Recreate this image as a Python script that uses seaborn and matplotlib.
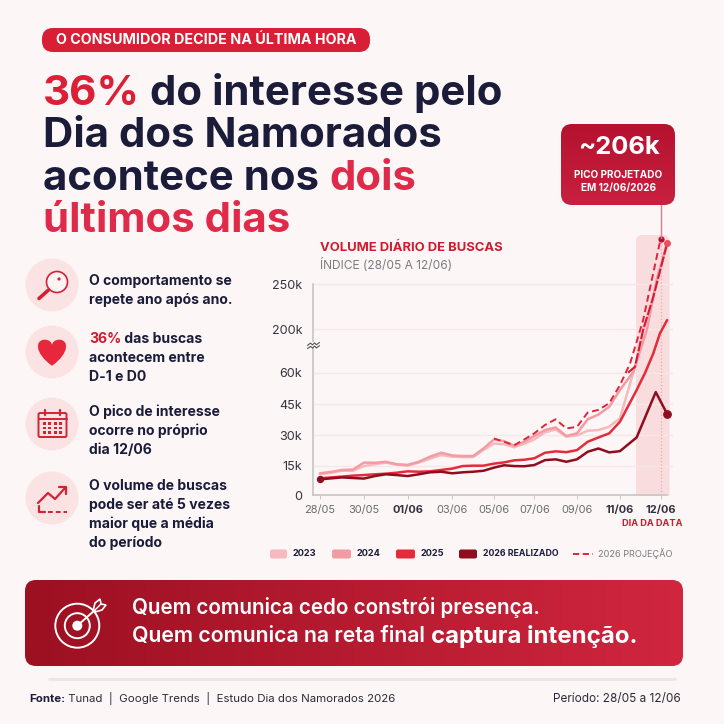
import numpy as np
import pandas as pd
import seaborn as sns
import matplotlib.pyplot as plt
from matplotlib.colors import to_rgb
from matplotlib.patches import FancyBboxPatch, Circle, Rectangle, PathPatch, Polygon
from matplotlib.path import Path
from matplotlib.lines import Line2D

# values are in thousands
days_grid = [0, 0.5, 1, 1.5, 2, 2.5, 3, 3.5, 4, 4.5, 5, 5.5, 6, 6.5, 7, 7.5, 8, 8.5, 9, 9.5,
             10, 10.5, 11, 11.5, 12, 12.5, 13, 13.5, 14]

days_2023 = days_grid + [14.37, 14.57, 14.82, 15.16]
vals_2023 = [10.6, 11.3, 12.4, 12.4, 14.8, 15.7, 16.5, 15.5, 15, 16.5, 18.4, 20.2, 19.4, 19.2, 19.2, 22.7,
             25.8, 25.5, 24, 25.8, 27.8, 31.3, 32.7, 29.2, 29.8, 32.1, 32.4, 34, 38.2,
             79, 197, 236, 296]

days_2024 = days_grid + [14.33, 14.66, 14.9, 15.16]
vals_2024 = [11.1, 11.8, 12.8, 13, 16.5, 16.4, 16.9, 15.7, 15.4, 16.9, 19.4, 21.3, 20, 19.7, 19.7, 23.4,
             27.8, 27, 24.7, 26.7, 29.5, 32.4, 33.7, 29.5, 30.8, 37.7, 40, 43.8, 51.8,
             63, 197, 255, 296]

days_2025 = days_grid + [14.41, 14.62, 14.82, 14.98, 15.16]
vals_2025 = [8.5, 9, 9.4, 9.9, 10.2, 10.6, 10.9, 11.4, 12.1, 11.9, 12.1, 12.8, 13.5, 14.8, 15, 15,
             16, 16.6, 17.6, 17.9, 18.6, 21.3, 22, 21.6, 22.6, 26.7, 28.8, 30.8, 36.5,
             51.8, 60, 122, 185, 210]

days_2026 = days_grid + [14.41, 14.88, 15.16]
vals_2026 = [8, 8.5, 9, 8.7, 8.4, 9.7, 10.6, 10.2, 9.7, 10.6, 11.6, 11.9, 11.1, 11.6, 11.9, 12.4,
             14, 15.2, 14.8, 14.7, 15.3, 17.7, 18.1, 16.9, 18.1, 21.8, 23.4, 21.5, 22.1,
             28.8, 50.8, 40.3]

days_proj = [8, 8.5, 9, 9.5, 10, 10.5, 11, 11.5, 12, 12.5, 13, 13.5, 14, 14.25, 14.57, 15]
vals_proj = [28.3, 26.7, 25, 27.8, 30.8, 34.9, 37.7, 33.2, 34, 41, 42.3, 45.5, 54.1, 90, 210, 301]

# second dashed stroke, the steep one running to the pink end dot
days_proj_b = [14.2, 14.37, 14.57, 14.82, 15.16]
vals_proj_b = [60, 79, 197, 236, 296]

tick_days = [0, 2, 4, 6, 8, 10, 12, 14, 15]
tick_labels = ["28/05", "30/05", "01/06", "03/06", "05/06", "07/06", "09/06", "11/06", "12/06"]
bold_ticks = ["01/06", "11/06", "12/06"]
y_ticks = [0, 15, 30, 45, 60, 200, 250]
y_labels = ["0", "15k", "30k", "45k", "60k", "200k", "250k"]

# axis is not even: broken above 60k and the x steps differ, so both get a knot scale
y_knots = [0, 15, 30, 45, 60, 200, 250, 305.2]
y_pos = [0, 88, 180, 272, 367, 498, 632, 780]
x_knots = [-0.303, 0, 2, 4, 6, 8, 10, 12, 14, 15, 15.31]
x_pos = [130, 150, 282, 413, 547, 672, 793, 921, 1050, 1172, 1210]

NAVY = "#1A1C3A"
RED = "#DB1F36"
RED2 = "#DF2A4A"
C23, C24, C25, C26, CPROJ = "#F6B9BD", "#F39BA3", "#E52B3A", "#8F0D1F", "#E3223A"
BG = "#FDF6F6"
FONT = "Inter"

sns.set_theme(style="white")
plt.rcParams["font.family"] = [FONT, "DejaVu Sans"]

fig = plt.figure(figsize=(7.24, 7.24), dpi=100, facecolor=BG)


def pixel_axes(z):
    a = fig.add_axes([0, 0, 1, 1], zorder=z)
    a.set_xlim(0, 724)
    a.set_ylim(724, 0)
    a.axis("off")
    a.patch.set_alpha(0)
    return a


bg = pixel_axes(0)
fg = pixel_axes(2)


def T(x, y, s, px, color=NAVY, weight="bold", ha="left", va="center", a=None):
    return (a or bg).text(x, y, s, fontsize=px * 0.72, color=color, fontweight=weight, ha=ha, va=va)


def runs(x, y, parts, px):
    # several colours on one line, placed one after the other
    r = fig.canvas.get_renderer()
    for s, col, w in parts:
        t = T(x, y, s, px, col, w, va="baseline")
        x += t.get_window_extent(r).width


def round_box(x0, y0, x1, y1, rad, **kw):
    p = FancyBboxPatch((x0, y0), x1 - x0, y1 - y0, boxstyle=f"round,pad=0,rounding_size={rad}", **kw)
    bg.add_patch(p)
    return p


def gradient_box(x0, y0, x1, y1, rad, c_a, c_b, vertical=False):
    p = round_box(x0, y0, x1, y1, rad, fc="none", ec="none")
    c0, c1 = np.array(to_rgb(c_a)), np.array(to_rgb(c_b))
    f = np.linspace(0, 1, 256)
    f = f[:, None, None] if vertical else f[None, :, None]
    im = bg.imshow(c0 + (c1 - c0) * f, extent=(x0, x1, y1, y0), aspect="auto", zorder=1, origin="upper")
    im.set_clip_path(p)
    bg.set_xlim(0, 724)
    bg.set_ylim(724, 0)


# header
round_box(42, 28, 370, 52, 11, fc="#D81F36", ec="none")
T(206, 40.5, "O CONSUMIDOR DECIDE NA ÚLTIMA HORA", 14.3, "white", ha="center")

TITLE = 42
runs(43, 105, [("36%", RED, "bold"), (" do interesse pelo", NAVY, "bold")], TITLE)
runs(43, 147, [("Dia dos Namorados", NAVY, "bold")], TITLE)
runs(43, 190, [("acontece nos ", NAVY, "bold"), ("dois", RED2, "bold")], TITLE)
runs(43, 232, [("últimos dias", RED2, "bold")], TITLE)

# left column
for cy in [285, 352, 424, 498]:
    bg.add_patch(Circle((52, cy), 26.5, fc="#FBE2E3", ec="none"))

TXT = 14.0
T(89, 281, "O comportamento se", TXT)
T(89, 300, "repete ano após ano.", TXT)
runs(89, 343, [("36%", "#D01A2E", "bold"), (" das buscas", NAVY, "bold")], TXT)
T(89, 358, "acontecem entre", TXT)
T(89, 377, "D-1 e D0", TXT)
T(89, 412, "O pico de interesse", TXT)
T(89, 431, "ocorre no próprio", TXT)
T(89, 450, "dia 12/06", TXT)
T(89, 486, "O volume de buscas", TXT)
T(89, 505, "pode ser até 5 vezes", TXT)
T(89, 524, "maior que a média", TXT)
T(89, 543, "do período", TXT)

ICON = "#D22335"
# lupa
bg.add_patch(Circle((57, 282), 10.5, fc="#FDF3F3", ec=ICON, lw=1.2))
bg.plot([48.5, 39], [290, 298.5], color=ICON, lw=2.6, solid_capstyle="round")
bg.add_patch(Circle((59, 279), 1.6, fc=ICON, ec="none"))
# coracao
hx, hy, hs = 52, 352, 14.5
heart = Path(
    [(hx, hy + hs * 0.95), (hx - hs * 1.25, hy + hs * 0.05), (hx - hs * 1.15, hy - hs * 0.85), (hx - hs * 0.5, hy - hs * 0.85),
     (hx - hs * 0.25, hy - hs * 0.85), (hx, hy - hs * 0.7), (hx, hy - hs * 0.45),
     (hx, hy - hs * 0.7), (hx + hs * 0.25, hy - hs * 0.85), (hx + hs * 0.5, hy - hs * 0.85),
     (hx + hs * 1.15, hy - hs * 0.85), (hx + hs * 1.25, hy + hs * 0.05), (hx, hy + hs * 0.95)],
    [Path.MOVETO] + [Path.CURVE4] * 12)
bg.add_patch(PathPatch(heart, fc="#E8263C", ec="none"))
# calendario
bg.add_patch(FancyBboxPatch((38.5, 413), 28, 24, boxstyle="round,pad=0,rounding_size=1.5", fc="none", ec=ICON, lw=1.4))
bg.plot([38.5, 66.5], [419, 419], color=ICON, lw=1.4)
for xx in [45, 60]:
    bg.plot([xx, xx], [410, 415], color=ICON, lw=1.6)
for row in range(3):
    for col in range(4):
        bg.add_patch(Rectangle((42.5 + col * 5.5, 422 + row * 4.5), 3.2, 2.6, fc=ICON, ec="none"))
# tendencia
bg.plot([38, 48, 55, 65], [503, 493, 499, 488], color=ICON, lw=1.6)
bg.plot([59, 66, 66], [487, 487, 494], color=ICON, lw=1.6)
bg.plot([38.5, 38.5, 45], [506, 512, 512], color=ICON, lw=1.6)
bg.plot([48, 67], [512, 512], color=ICON, lw=1.4, ls=(0, (2.5, 1.5)))

# chart
T(320, 248, "VOLUME DIÁRIO DE BUSCAS", 13, "#D01A2E")
T(320, 265, "ÍNDICE (28/05 A 12/06)", 12, "#7B7B80", "normal")
round_box(636, 235, 669.5, 505, 6, fc="#F9DCDD", ec="none", zorder=0.5)
bg.add_patch(Rectangle((630, 495.6), 45, 12, fc=BG, ec="none", zorder=0.6))

ax = fig.add_axes([313.3 / 724, (724 - 495) / 724, 360 / 724, 260 / 724], zorder=1)
ax.patch.set_alpha(0)
ax.set_xscale("function", functions=(lambda v: np.interp(v, x_knots, x_pos), lambda v: np.interp(v, x_pos, x_knots)))
ax.set_yscale("function", functions=(lambda v: np.interp(v, y_knots, y_pos), lambda v: np.interp(v, y_pos, y_knots)))

ax.axvline(15, color="#EBAAB2", lw=0.9, ls=":", zorder=1)
df = pd.concat([
    pd.DataFrame({"dia": days_2023, "buscas": vals_2023, "serie": "2023"}),
    pd.DataFrame({"dia": days_2024, "buscas": vals_2024, "serie": "2024"}),
    pd.DataFrame({"dia": days_2025, "buscas": vals_2025, "serie": "2025"}),
    pd.DataFrame({"dia": days_2026, "buscas": vals_2026, "serie": "2026"}),
])
sns.lineplot(data=df, x="dia", y="buscas", hue="serie", palette=[C23, C24, C25, C26],
             estimator=None, sort=False, lw=1.8, legend=False, ax=ax, zorder=3)
sns.lineplot(x=days_proj, y=vals_proj, color=CPROJ, lw=1.4, ls=(0, (3.5, 2)), estimator=None, sort=False, ax=ax, zorder=4)
sns.lineplot(x=days_proj_b, y=vals_proj_b, color="#D41B34", lw=1.5, ls=(0, (5, 1)), estimator=None, sort=False, ax=ax, zorder=4)

ax.scatter([days_2026[0]], [vals_2026[0]], s=18, color=C26, zorder=5)
ax.scatter([days_2026[-1]], [vals_2026[-1]], s=28, color=C26, zorder=5)
ax.scatter([days_2024[-1]], [vals_2024[-1]], s=16, color="#E9505F", zorder=5)
ax.scatter([days_proj[-1]], [vals_proj[-1]], s=12, color="#B4122A", zorder=5)

ax.set_xlim(x_knots[0], x_knots[-1])
ax.set_ylim(0, 305.2)
ax.set_xticks(tick_days)
ax.set_xticklabels(tick_labels)
ax.set_yticks(y_ticks)
ax.set_yticklabels(y_labels)
ax.minorticks_off()
ax.set_xlabel("")
ax.set_ylabel("")
ax.grid(axis="y", color="#F3E9E9", lw=1)
ax.set_axisbelow(True)
for s in ["top", "right"]:
    ax.spines[s].set_visible(False)
ax.spines["left"].set_bounds(0, 250)
ax.spines["bottom"].set_bounds(x_knots[0], 15.16)
ax.spines["left"].set_color("#C9C6C6")
ax.spines["bottom"].set_color("#C9C6C6")
ax.tick_params(axis="y", length=0, pad=8, labelsize=12.6 * 0.72, labelcolor="#33333F")
ax.tick_params(axis="x", length=3, width=0.7, color="#C9C6C6", bottom=True, pad=4, labelsize=11 * 0.72, labelcolor="#6A6A70")
for lab in ax.get_xticklabels():
    if lab.get_text() in bold_ticks:
        lab.set_fontweight("bold")
        lab.set_color("#33333F")

# quebra do eixo
fg.add_patch(Rectangle((309, 342), 9, 6, fc=BG, ec="none"))
wave = [-6, -3, -1, 1, 3, 6]
for off in [-1.6, 1.6]:
    fg.plot([313.5 + w for w in wave], [345.5 + off + d for d in [1.5, -0.8, 1, -1, 0.8, -1.5]], color="#555", lw=0.8)

T(652, 523, "DIA DA DATA", 9.2, "#D01A2E", ha="center")

# legenda
legend_swatches = [(270, 287, C23), (332, 351, C24), (396, 415, C25), (459, 477, C26)]
legend_texts = [(293, "2023", 9.2), (357, "2024", 9.2), (421, "2025", 9.2), (483, "2026 REALIZADO", 8.8)]
for x0, x1, col in legend_swatches:
    round_box(x0, 549.5, x1, 558.5, 2, fc=col, ec="none")
for x0, lab, size in legend_texts:
    T(x0, 554, lab, size)
bg.plot([573, 593], [554, 554], color=CPROJ, lw=1.4, ls=(0, (3.2, 1.8)))
T(598, 554, "2026 PROJEÇÃO", 9.2, "#7B7B80", "normal")

# callout
gradient_box(561, 124, 675, 205, 11, "#B51230", "#C9203F", vertical=True)
T(618.5, 148, "~206k", 25.5, "white", ha="center").set_zorder(3)
T(618.5, 175, "PICO PROJETADO", 10, "white", ha="center").set_zorder(3)
T(618.5, 188, "EM 12/06/2026", 10, "white", ha="center").set_zorder(3)
fg.plot([661, 661], [205, 238], color="#D9808E", lw=1)

# banner
gradient_box(25, 580, 683, 666, 11, "#9C1022", "#D0263F")
for r, lw in [(22, 1.4), (12.5, 1.4)]:
    bg.add_patch(Circle((77.3, 625.7), r, fc="none", ec="white", lw=lw, zorder=2))
bg.add_patch(Circle((77.3, 625.7), 5, fc="white", ec="none", zorder=2))
bg.plot([77.3, 95], [625.7, 610], color="white", lw=1.4, zorder=2)
bg.add_patch(Polygon([(93, 611), (95, 603), (100, 599), (101, 604), (106, 605), (102, 610), (95, 612)],
                     fc="none", ec="white", lw=1.2, zorder=2))
bg.plot([95, 101], [610, 604], color="white", lw=1, zorder=2)
T(132, 608, "Quem comunica cedo constrói presença.", 20.6, "white", "semibold").set_zorder(3)
T(132, 636, "Quem comunica na reta final", 21.3, "white", "semibold").set_zorder(3)
T(431, 636, "captura intenção.", 24, "white", "bold").set_zorder(3)

# rodape
bg.add_line(Line2D([49, 675], [679, 679], color="#EDE4E4", lw=2))
runs(29, 702, [("Fonte:", NAVY, "bold"), (" Tunad  |  Google Trends  |  Estudo Dia dos Namorados 2026", "#2A2A3A", "normal")], 11.5)
T(681, 702, "Período: 28/05 a 12/06", 11.8, "#2A2A3A", "normal", ha="right", va="baseline")

fig.savefig("out.png", dpi=100, facecolor=BG)
